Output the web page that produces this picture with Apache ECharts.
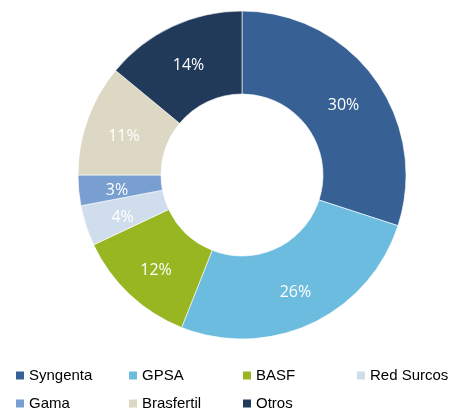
<!DOCTYPE html>
<html>
<head>
<meta charset="utf-8">
<script src="https://cdn.jsdelivr.net/npm/echarts@6/dist/echarts.min.js"></script>
<style>
  html, body { margin: 0; padding: 0; background: #fff; }
  #chart { width: 450px; height: 409px; }
</style>
</head>
<body>
<div id="chart"></div>
<script>
// datos del gráfico
var companies = ['Syngenta', 'GPSA', 'BASF', 'Red Surcos', 'Gama', 'Brasfertil', 'Otros']
var shares = [30, 26, 12, 4, 3, 11, 14]
var colors = ['#376194', '#6cbcdf', '#97b622', '#d0dded', '#789fd0', '#ddd8c3', '#223a5a']

// posiciones de la leyenda (2 filas, 4 columnas)
var legendLeft = [14, 127, 241, 355, 14, 127, 241]
var legendTop = [368, 368, 368, 368, 396, 396, 396]

var myChart = echarts.init(document.getElementById('chart'))

var legends = companies.map(function (name, i) {
  return {
    data: [name],
    left: legendLeft[i],
    top: legendTop[i],
    orient: 'horizontal',
    itemWidth: 10,
    itemHeight: 10,
    itemGap: 0,
    padding: 0,
    icon: 'rect',
    selectedMode: false,
    textStyle: {
      fontFamily: 'Liberation Sans, Arial, sans-serif',
      fontSize: 15,
      color: '#000',
      padding: [0, 0, 0, -1]
    }
  }
})

var option = {
  animation: false,
  color: colors,
  legend: legends,
  series: [
    {
      type: 'pie',
      center: [242, 175],
      radius: [81, 164],
      startAngle: 90,
      clockwise: true,
      avoidLabelOverlap: false,
      itemStyle: {
        borderColor: '#fff',
        borderWidth: 0.6
      },
      label: {
        show: true,
        position: 'inside',
        formatter: '{c}%',
        color: '#fff',
        fontFamily: 'Open Sans, sans-serif',
        fontSize: 16,
        offset: [0, 4]
      },
      labelLine: { show: false },
      data: companies.map(function (name, i) {
        return { name: name, value: shares[i] }
      })
    }
  ]
}

myChart.setOption(option)
</script>
</body>
</html>
